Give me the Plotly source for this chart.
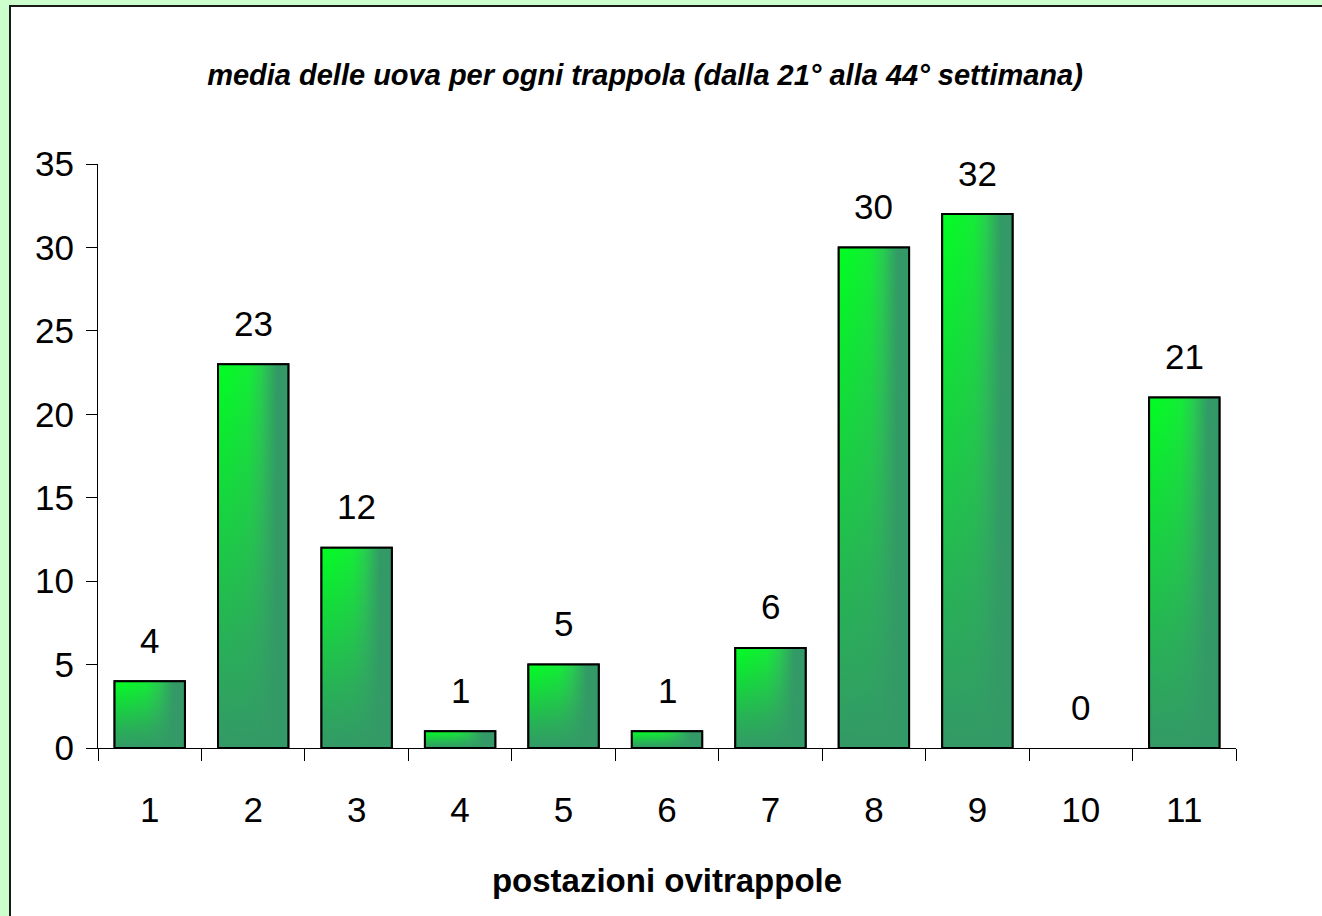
import plotly.graph_objects as go

# ---- data ----
categories = ["1", "2", "3", "4", "5", "6", "7", "8", "9", "10", "11"]
values = [4, 23, 12, 1, 5, 1, 6, 30, 32, 0, 21]
y_ticks = [0, 5, 10, 15, 20, 25, 30, 35]

title_text = "media delle uova per ogni trappola (dalla 21° alla 44° settimana)"
x_title = "postazioni ovitrappole"

FONT = "Liberation Sans, Arial, sans-serif"
BRIGHT = "#00FF21"
DARK = "#339966"
BAR_W = 0.68
NUM_SIZE = 35

xpos = list(range(1, len(categories) + 1))

fig = go.Figure()

# base bars
fig.add_trace(go.Bar(
    x=xpos, y=values, width=BAR_W,
    marker=dict(color=DARK, line=dict(color="black", width=[2 if v > 0 else 0 for v in values])),
    showlegend=False, hoverinfo="skip",
))

# gradient overlays derived from the data
for xc, v in zip(xpos, values):
    if v <= 0:
        continue
    x0, x1 = xc - BAR_W / 2, xc + BAR_W / 2
    px = [x0, x1, x1, x0, x0]
    py = [0, 0, v, v, 0]
    fig.add_trace(go.Scatter(
        x=px, y=py, mode="lines", fill="toself",
        line=dict(width=0, color="rgba(0,0,0,0)"),
        fillgradient=dict(type="horizontal",
                          colorscale=[[0, BRIGHT], [0.45, "#14EC36"], [0.62, "#26CF4E"],
                                      [0.84, DARK], [1, DARK]]),
        showlegend=False, hoverinfo="skip",
    ))
    fig.add_trace(go.Scatter(
        x=px, y=py, mode="lines", fill="toself",
        line=dict(width=2, color="black"),
        fillgradient=dict(type="vertical",
                          colorscale=[[0, "rgba(51,153,102,1)"], [0.3, "rgba(51,153,102,0.75)"],
                                      [1, "rgba(51,153,102,0)"]]),
        showlegend=False, hoverinfo="skip",
    ))

# value labels
for xc, v in zip(xpos, values):
    fig.add_annotation(x=xc, y=v, text=str(v), showarrow=False,
                       yanchor="middle", yshift=41,
                       font=dict(family=FONT, size=NUM_SIZE, color="black"))

# panel background with border
L, R, T, B = 98, 1236, 164, 748
W, H = R - L, B - T
def px2x(p): return (p - L) / W
def py2y(p): return (B - p) / H
fig.add_shape(type="rect", xref="paper", yref="paper",
              x0=px2x(10), x1=px2x(1335), y0=py2y(930), y1=py2y(6),
              fillcolor="white", line=dict(color="#1a1a1a", width=2), layer="below")

fig.update_layout(
    width=1322, height=916,
    margin=dict(l=L, r=1322 - R, t=T, b=916 - B, pad=0),
    paper_bgcolor="#CCFFCC", plot_bgcolor="rgba(0,0,0,0)",
    font=dict(family=FONT, color="black"),
    title=dict(text="<b><i>" + title_text + "</i></b>", x=px2x(645), xanchor="center",
               xref="paper", y=1 - 75 / 916, yanchor="middle",
               font=dict(family=FONT, size=29, color="black")),
    xaxis=dict(range=[0.5, 11.5], tickvals=xpos, ticktext=categories,
               ticks="", showgrid=False, zeroline=False,
               showline=True, linecolor="black", linewidth=1,
               tickfont=dict(family=FONT, size=NUM_SIZE), ticklabelstandoff=31,
               minor=dict(tick0=0.5, dtick=1, ticks="outside", ticklen=12,
                          tickcolor="black", showgrid=False),
               title=dict(text="<b>" + x_title + "</b>", standoff=40,
                          font=dict(family=FONT, size=33))),
    yaxis=dict(range=[0, 35], tickvals=y_ticks, ticks="outside", ticklen=11,
               tickcolor="black", showgrid=False, zeroline=False,
               showline=True, linecolor="black", linewidth=1,
               tickfont=dict(family=FONT, size=NUM_SIZE), ticklabelstandoff=5),
    showlegend=False,
)

fig.write_html("out.html", config={"displayModeBar": False},
               post_script="document.body.style.margin='0';document.body.style.overflow='hidden';")
